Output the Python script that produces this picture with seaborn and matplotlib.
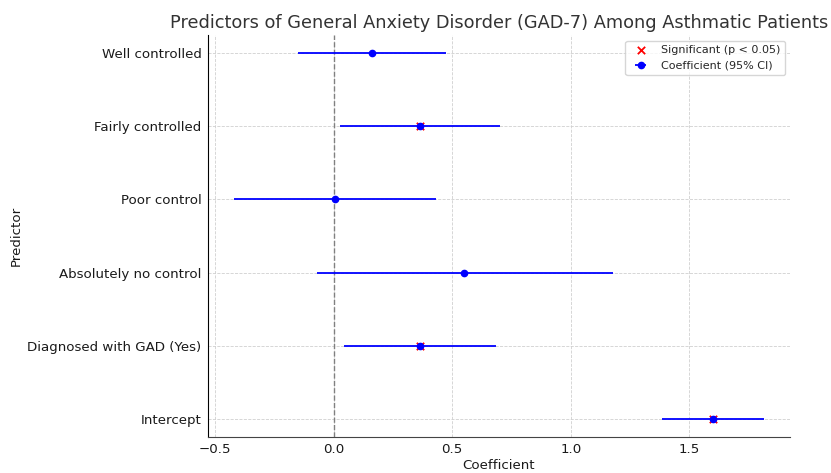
import matplotlib
matplotlib.use("Agg")
import matplotlib.pyplot as plt
import seaborn as sns
import pandas as pd
import numpy as np

predictors = ["Intercept", "Diagnosed with GAD (Yes)", "Absolutely no control",
              "Poor control", "Fairly controlled", "Well controlled"]
coef = [1.598, 0.364, 0.55, 0.004, 0.364, 0.161]
ci_low = [1.383, 0.042, -0.072, -0.419, 0.025, -0.148]
ci_high = [1.814, 0.685, 1.18, 0.431, 0.702, 0.474]
significant = [True, True, False, False, True, False]

sns.set_style("whitegrid")
plt.rcParams['font.family'] = ['DejaVu Sans']

df = pd.DataFrame({"predictor": predictors, "coef": coef, "lo": ci_low,
                   "hi": ci_high, "sig": significant})
df["pos"] = np.arange(len(df))

fig = plt.figure(figsize=(8.31, 4.73), dpi=100)
ax = fig.add_axes([0.250, 0.076, 0.701, 0.850])

sig_df = df[df["sig"]]
sns.scatterplot(data=sig_df, x="coef", y="pos", marker="x", color="red", s=28,
                linewidth=1.3, ax=ax, label="Significant (p < 0.05)", zorder=2)
err = np.array([df["coef"] - df["lo"], df["hi"] - df["coef"]])
ax.errorbar(df["coef"], df["pos"], xerr=err, fmt="o", color="blue", ecolor="blue",
            markersize=4.5, elinewidth=1.3, capsize=0, label="Coefficient (95% CI)", zorder=3)
ax.axvline(0, color="grey", linestyle="--", linewidth=1, zorder=1)

ax.set_yticks(df["pos"])
ax.set_yticklabels(df["predictor"], fontsize=9.6, color="#1a1a1a")
ax.tick_params(axis="x", labelsize=9.6, colors="#1a1a1a", length=3, pad=1.5)
ax.tick_params(axis="y", length=3, pad=1.5, colors="#1a1a1a")
ax.set_xlabel("Coefficient", fontsize=9.6, color="#1a1a1a", labelpad=2)
ax.set_ylabel("Predictor", fontsize=9.6, color="#1a1a1a", labelpad=3)
ax.set_title("Predictors of General Anxiety Disorder (GAD-7) Among Asthmatic Patients",
             fontsize=12.8, color="#333333", pad=5)
ax.grid(True, linestyle="--", linewidth=0.6, color="#d0d0d0")
ax.set_ylim(-0.25, 5.25)
for s in ["top", "right"]:
    ax.spines[s].set_visible(False)
ax.spines["left"].set_color("black")
ax.spines["bottom"].set_color("#444444")
ax.legend(loc="upper right", fontsize=8, frameon=True)

fig.savefig("out.png", dpi=100)
